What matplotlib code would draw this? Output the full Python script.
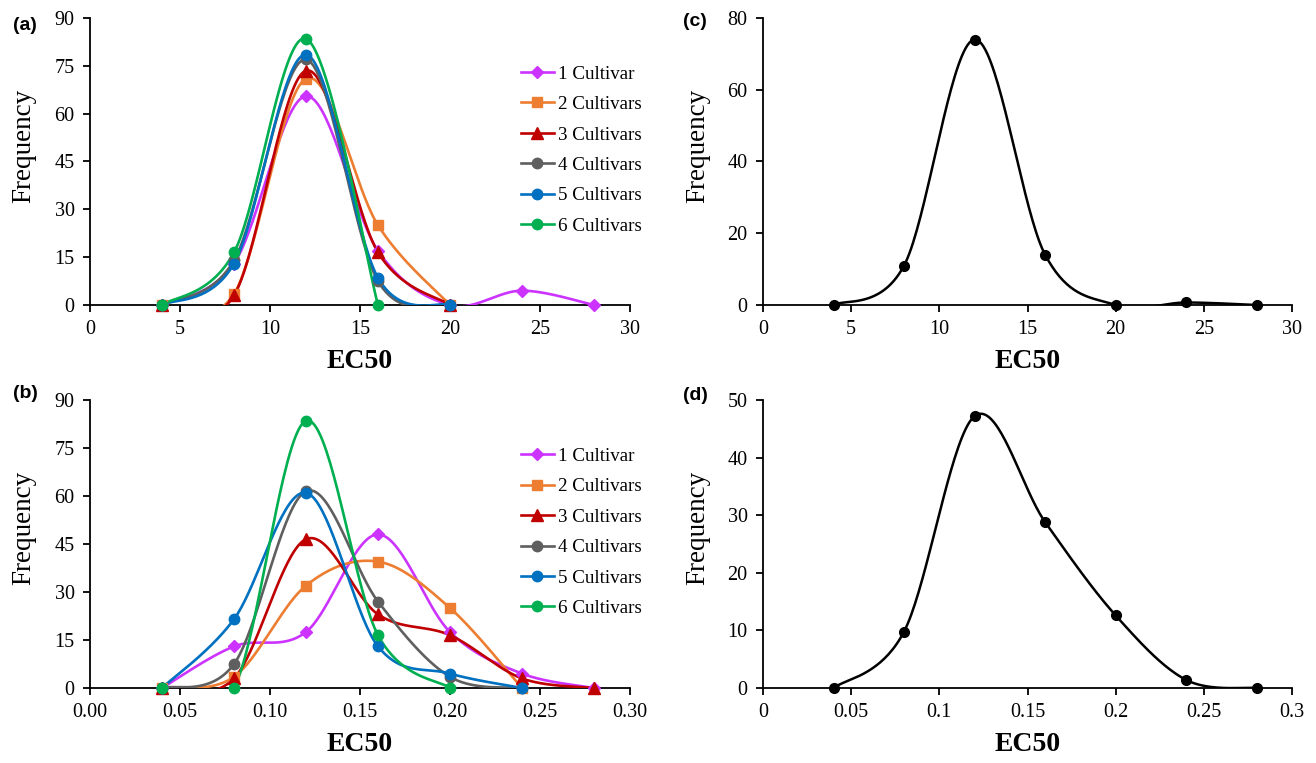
# -*- coding: utf-8 -*-
# EC50 frequency distributions, four panels (a)-(d)

import numpy as np
import matplotlib
matplotlib.use('Agg')
import matplotlib.pyplot as plt
from matplotlib.lines import Line2D

# ---- data ----
x_ab_top = [4, 8, 12, 16, 20, 24, 28]
x_ab_bot = [0.04, 0.08, 0.12, 0.16, 0.20, 0.24, 0.28]

labels = ['1 Cultivar', '2 Cultivars', '3 Cultivars', '4 Cultivars', '5 Cultivars', '6 Cultivars']
colors = ['#CC33FF', '#ED7D31', '#C00000', '#5F5F5F', '#0070C0', '#00B050']
markers = ['D', 's', '^', 'o', 'o', 'o']
msizes = [6, 7, 8, 7.5, 7.5, 7.5]

# panel (a)
a_1 = [0, 13, 65.5, 17, 0, 4.5, 0]
a_2 = [0, 3.5, 71, 25, 0]
a_3 = [0, 3, 73.5, 16.5, 0]
a_4 = [0, 14, 77, 7.5, 0]
a_5 = [0, 13, 78.5, 8.5, 0]
a_6 = [0, 16.5, 83.5, 0]

# panel (b)
b_1 = [0, 13, 17.5, 48, 17.5, 4.5, 0]
b_2 = [0, 3.5, 32, 39.5, 25, 0]
b_3 = [0, 3, 46.5, 23, 16.5, 3, 0]
b_4 = [0, 7.5, 61.5, 27, 3.5, 0]
b_5 = [0, 21.5, 61, 13, 4.5, 0]
b_6 = [0, 0, 83.5, 16.5, 0]

# panel (c) and (d)
c_all = [0, 11, 74, 14, 0, 0.7, 0]
d_all = [0, 9.8, 47.2, 28.8, 12.6, 1.4, 0]

xticks_top = [0, 5, 10, 15, 20, 25, 30]
xticks_b = [0.00, 0.05, 0.10, 0.15, 0.20, 0.25, 0.30]
xticklabels_b = ['0.00', '0.05', '0.10', '0.15', '0.20', '0.25', '0.30']
xticklabels_d = ['0', '0.05', '0.1', '0.15', '0.2', '0.25', '0.3']

plt.rcParams['font.family'] = ['Liberation Serif', 'DejaVu Serif']


def smooth(x, y, n=40):
    # excel style smoothed line (catmull-rom bezier)
    pts = np.column_stack([np.asarray(x, float), np.asarray(y, float)])
    out = []
    t = np.linspace(0, 1, n)[:, None]
    for i in range(len(pts) - 1):
        p0 = pts[max(i - 1, 0)]
        p1 = pts[i]
        p2 = pts[i + 1]
        p3 = pts[min(i + 2, len(pts) - 1)]
        c1 = p1 + (p2 - p0) / 6.0
        c2 = p2 - (p3 - p1) / 6.0
        seg = (1 - t)**3 * p1 + 3 * (1 - t)**2 * t * c1 + 3 * (1 - t) * t**2 * c2 + t**3 * p2
        out.append(seg)
    out = np.vstack(out)
    return out[:, 0], out[:, 1]


def style_axes(ax, xlim, ylim, xticks, yticks, xticklabels=None):
    ax.set_xlim(xlim)
    ax.set_ylim(ylim)
    ax.set_xticks(xticks)
    if xticklabels is not None:
        ax.set_xticklabels(xticklabels)
    ax.set_yticks(yticks)
    ax.spines['top'].set_visible(False)
    ax.spines['right'].set_visible(False)
    ax.spines['left'].set_linewidth(1.3)
    ax.spines['bottom'].set_linewidth(1.3)
    ax.tick_params(direction='out', length=5, width=1.3, labelsize=14.5, pad=6)
    ax.set_xlabel('EC50', fontsize=20, fontweight='bold', labelpad=7)
    ax.set_ylabel('Frequency', fontsize=19.5)
    ax.yaxis.set_label_coords(-0.1, 0.555)


def plot_multi(ax, x, series):
    for i, y in enumerate(series):
        xs, ys = smooth(x[:len(y)], y)
        ax.plot(xs, ys, color=colors[i], lw=1.9, zorder=3)
        ax.plot(x[:len(y)], y, ls='none', marker=markers[i], ms=msizes[i],
                color=colors[i], clip_on=False, zorder=4)
    handles = [Line2D([], [], color=colors[i], lw=1.9, marker=markers[i], ms=msizes[i])
               for i in range(len(series))]
    ax.legend(handles, labels, loc='upper left', bbox_to_anchor=(0.798, 0.835),
              frameon=False, fontsize=13.7, handlelength=1.74, handletextpad=0.2,
              labelspacing=0.69, borderaxespad=0, borderpad=0)


def plot_single(ax, x, y):
    xs, ys = smooth(x, y)
    ax.plot(xs, ys, color='black', lw=1.8, zorder=3)
    ax.plot(x, y, ls='none', marker='o', ms=7, color='black', clip_on=False, zorder=4)


fig = plt.figure(figsize=(13.16, 7.63), dpi=100)
W, H = 1316.0, 763.0
ax_a = fig.add_axes([90 / W, 1 - 305 / H, 540 / W, 287 / H])
ax_b = fig.add_axes([90 / W, 1 - 688 / H, 540 / W, 288 / H])
ax_c = fig.add_axes([763 / W, 1 - 305 / H, 529 / W, 287 / H])
ax_d = fig.add_axes([763 / W, 1 - 688 / H, 529 / W, 288 / H])

plot_multi(ax_a, x_ab_top, [a_1, a_2, a_3, a_4, a_5, a_6])
style_axes(ax_a, (0, 30), (0, 90), xticks_top, np.arange(0, 91, 15))

plot_multi(ax_b, x_ab_bot, [b_1, b_2, b_3, b_4, b_5, b_6])
style_axes(ax_b, (0, 0.3), (0, 90), xticks_b, np.arange(0, 91, 15), xticklabels_b)

plot_single(ax_c, x_ab_top, c_all)
style_axes(ax_c, (0, 30), (0, 80), xticks_top, np.arange(0, 81, 20))

plot_single(ax_d, x_ab_bot, d_all)
style_axes(ax_d, (0, 0.3), (0, 50), xticks_b, np.arange(0, 51, 10), xticklabels_d)

# panel letters
for lab, px, py in [('(a)', 13, 25), ('(b)', 13, 393), ('(c)', 683, 21), ('(d)', 683, 395)]:
    fig.text(px / W, 1 - py / H, lab, fontsize=14, fontweight='bold',
             family='Liberation Sans', ha='left', va='center')

plt.savefig('out.png', dpi=100)
plt.close()
